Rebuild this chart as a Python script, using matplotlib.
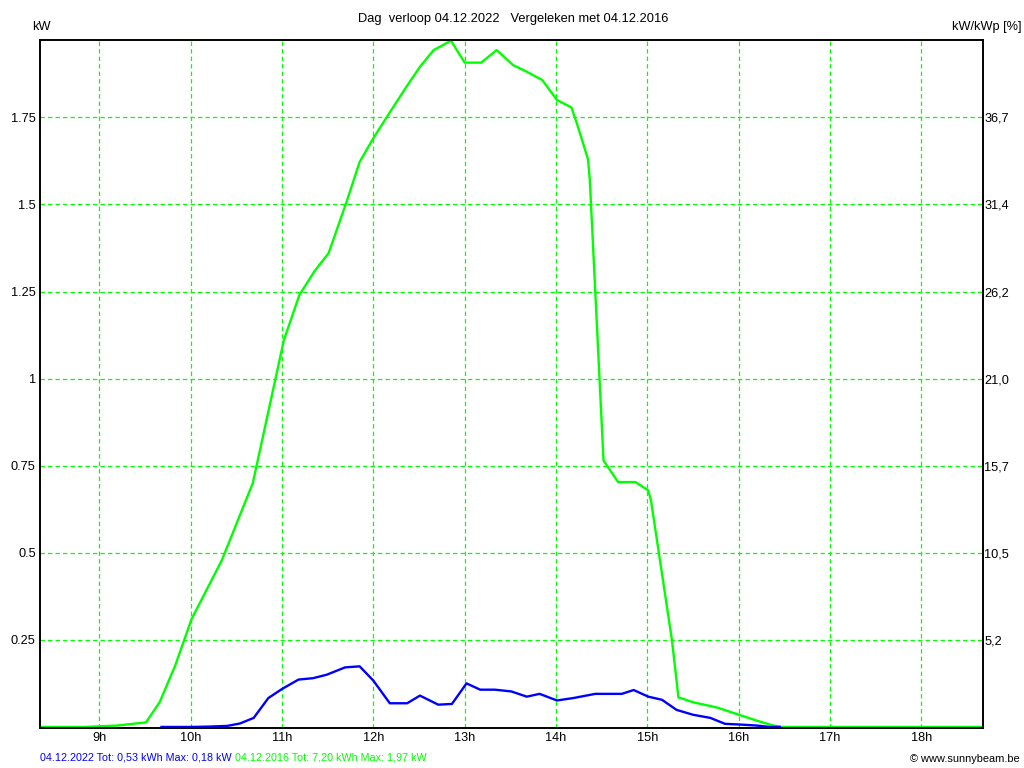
import matplotlib
matplotlib.use("Agg")
from matplotlib import pyplot as plt

# data (hours as decimal, kW)
t_2016 = [8.35, 8.84, 9.19, 9.51, 9.66, 9.83, 10.01, 10.34, 10.68, 11.02, 11.19, 11.36,
          11.51, 11.71, 11.85, 12.00, 12.15, 12.35, 12.51, 12.66, 12.85, 13.00, 13.18,
          13.35, 13.53, 13.68, 13.85, 14.01, 14.17, 14.24, 14.35, 14.37, 14.52, 14.68,
          14.87, 15.01, 15.04, 15.27, 15.34, 15.50, 15.76, 15.98, 16.20, 16.38, 16.47, 18.67]
kw_2016 = [0.0, 0.0, 0.004, 0.013, 0.071, 0.176, 0.31, 0.478, 0.70, 1.11, 1.24, 1.31,
           1.36, 1.51, 1.622, 1.69, 1.752, 1.833, 1.895, 1.943, 1.97, 1.907, 1.907,
           1.943, 1.90, 1.881, 1.857, 1.80, 1.778, 1.723, 1.63, 1.57, 0.765, 0.703,
           0.703, 0.679, 0.65, 0.248, 0.085, 0.071, 0.056, 0.037, 0.018, 0.004, 0.0, 0.0]

t_2022 = [9.68, 10.01, 10.19, 10.40, 10.54, 10.69, 10.85, 11.00, 11.18, 11.34, 11.49,
          11.69, 11.85, 12.00, 12.18, 12.37, 12.51, 12.71, 12.86, 13.02, 13.17, 13.33,
          13.51, 13.68, 13.82, 14.01, 14.19, 14.43, 14.72, 14.85, 15.01, 15.16, 15.32,
          15.50, 15.69, 15.85, 16.01, 16.20, 16.34, 16.45]
kw_2022 = [0.0, 0.0, 0.001, 0.003, 0.01, 0.026, 0.083, 0.109, 0.136, 0.140, 0.150,
           0.171, 0.174, 0.133, 0.068, 0.068, 0.090, 0.064, 0.066, 0.125, 0.107, 0.107,
           0.102, 0.087, 0.095, 0.076, 0.083, 0.095, 0.095, 0.106, 0.087, 0.078, 0.049,
           0.035, 0.026, 0.009, 0.007, 0.004, 0.0, 0.0]

hours = [9, 10, 11, 12, 13, 14, 15, 16, 17, 18]
hour_labels = [f"{h}h" for h in hours]
kw_ticks = [0.25, 0.5, 0.75, 1.0, 1.25, 1.5, 1.75]
kw_labels = ["0.25", "0.5", "0.75", "1", "1.25", "1.5", "1.75"]
pct_labels = ["5,2", "10,5", "15,7", "21,0", "26,2", "31,4", "36,7"]

plt.rcParams['font.family'] = ['Liberation Sans', 'DejaVu Sans']

W, H = 1024, 768
fig = plt.figure(figsize=(W / 100, H / 100), dpi=100)
ax = fig.add_axes([40 / W, (H - 728) / H, 943 / W, 688 / H])

# dashed green grid
grid_style = dict(color='#00ff00', linewidth=0.9, linestyle=(0, (3.5, 2.5)))
for h in hours:
    ax.axvline(h, zorder=1, **grid_style)
for k in kw_ticks:
    ax.axhline(k, zorder=1, **grid_style)

ax.plot(t_2016, kw_2016, color='#00ff00', linewidth=1.7, zorder=3)
ax.plot(t_2022, kw_2022, color='#0000ff', linewidth=1.7, zorder=3)

ax.set_xlim(8.35, 18.675)
ax.set_ylim(-0.003, 1.972)
ax.set_xticks(hours)
ax.set_xticklabels(hour_labels)
ax.set_yticks(kw_ticks)
ax.set_yticklabels(kw_labels)
ax.tick_params(axis='x', length=0, labelsize=9.2, pad=3)
ax.tick_params(axis='y', length=0, labelsize=9.2, pad=3)

ax2 = ax.twinx()
ax2.set_ylim(ax.get_ylim())
ax2.set_yticks(kw_ticks)
ax2.set_yticklabels(pct_labels)
ax2.tick_params(axis='y', length=0, labelsize=9.2, pad=1)

for a in (ax, ax2):
    for s in a.spines.values():
        s.set_linewidth(1.2)
        s.set_color('black')

fig.text(513 / W, 1 - 19 / H, "Dag  verloop 04.12.2022   Vergeleken met 04.12.2016",
         ha='center', va='center', fontsize=9.3)
fig.text(32 / W, 1 - 27 / H, "kW", ha='left', va='center', fontsize=9.2)
fig.text(1021 / W, 1 - 27 / H, "kW/kWp [%]", ha='right', va='center', fontsize=9.2)

t1 = fig.text(40 / W, 1 - 757 / H, "04.12.2022 Tot: 0,53 kWh Max: 0,18 kW ",
              ha='left', va='center', fontsize=7.75, color='#0000ff')
fig.canvas.draw()
bb = t1.get_window_extent()
fig.text(bb.x1 / W, 1 - 757 / H, "04.12.2016 Tot: 7,20 kWh Max: 1,97 kW",
         ha='left', va='center', fontsize=7.75, color='#00ff00')
fig.text(1020 / W, 1 - 759 / H, "\u00a9 www.sunnybeam.be", ha='right', va='center',
         fontsize=7.9, color='black')

fig.savefig("out.png", dpi=100, facecolor='white')
